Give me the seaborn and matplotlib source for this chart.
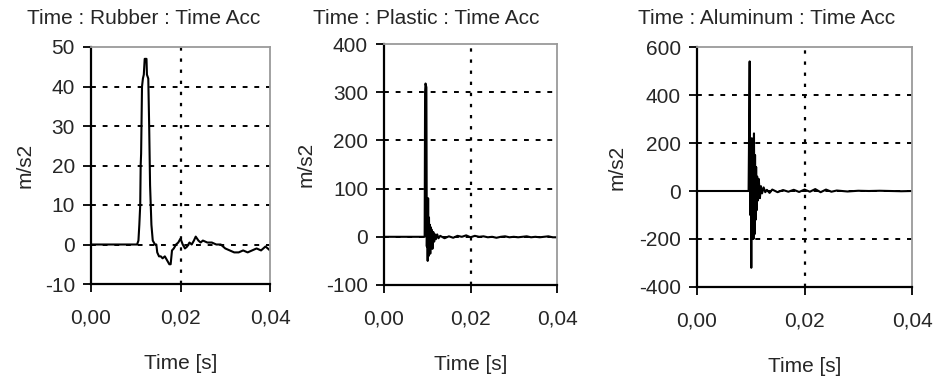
import numpy as np
import pandas as pd
import matplotlib
matplotlib.use("Agg")
import matplotlib.pyplot as plt
import seaborn as sns

# ---- data (time in ms, acceleration in m/s2) ----
rubber_t = [0, 10.3, 10.6, 10.8, 11.0, 11.1, 11.2, 11.4, 11.6, 11.8, 12.0, 12.4, 12.5, 12.8, 13.0,
            13.2, 13.5, 13.8, 14.3, 14.6, 14.8, 15.2, 15.6, 16.0, 16.5, 17.0, 17.5, 17.8, 18.1,
            18.5, 19.0, 19.5, 20.0, 20.5, 21.0, 21.5, 22.0, 22.5, 23.0, 23.4, 24.0, 24.5, 25.0,
            26.0, 27.0, 28.0, 29.0, 30.0, 31.0, 32.0, 33.0, 34.0, 35.0, 36.0, 37.0, 38.0, 39.0, 40.0]
rubber_a = [0, 0, 1, 5, 10, 20, 23, 40, 42, 43, 47, 47, 43, 42, 30,
            15, 5, 1, 0, 0, -2, -3, -3, -3.5, -3, -4, -5, -5, -1.5,
            -1, 0, 0.5, 1.5, 0, -1, -0.5, 0.5, 0, 1, 2, 1, 0.5, 1,
            0.5, 0.5, 0, 0, -1, -1.5, -2, -2, -1.5, -2, -1.5, -1, -1.5, -0.5, -1.5]

plastic_t = [0, 9.4, 9.5, 9.6, 9.8, 9.9, 10.0, 10.1, 10.2, 10.3, 10.4, 10.5, 10.6, 10.7, 10.8,
             10.9, 11.0, 11.2, 11.4, 11.6, 11.8, 12.0, 12.3, 12.6, 13.0, 14.0, 15.0, 16.0, 17.0,
             18.0, 19.0, 20.0, 21.0, 22.0, 23.0, 24.0, 25.0, 26.0, 27.0, 28.0, 29.0, 30.0,
             31.0, 32.0, 33.0, 34.0, 35.0, 36.0, 37.0, 38.0, 39.0, 40.0]
plastic_a = [0, 0, 300, 318, 310, -20, 60, -50, 80, -40, 40, -30, 25, -35, 20,
             -20, 15, -25, 10, -10, 5, -5, 5, -3, 2, -3, 1, -2, 2,
             0, 3, -1, 2, 0, 1, -1, 0, -2, 0, 1, -1, 0,
             -1, 0, 1, -1, 0, -1, 0, 1, -1, -1]

alu_t = [0, 9.6, 9.8, 9.9, 10.0, 10.1, 10.2, 10.3, 10.4, 10.5, 10.6, 10.7, 10.8, 10.9, 11.0,
         11.1, 11.2, 11.3, 11.5, 11.7, 11.9, 12.1, 12.4, 12.7, 13.0, 13.5, 14.0, 15.0, 16.0,
         17.0, 18.0, 19.0, 20.0, 21.0, 22.0, 23.0, 24.0, 25.0, 26.0, 28.0, 30.0, 32.0, 34.0,
         36.0, 38.0, 40.0]
alu_a = [0, 0, 540, -100, 200, -320, 220, -150, 180, -200, 240, -180, 150, -120, 100,
         -80, 60, -40, 50, -30, 20, -10, 15, -5, 5, -8, 6, -5, 4,
         -3, 5, -4, 6, -3, 8, -5, 6, -3, 2, -2, 1, 0, 1,
         0, -1, 0]

titles = ["Time : Rubber : Time Acc", "Time : Plastic : Time Acc", "Time : Aluminum : Time Acc"]
y_ticks = [[-10, 0, 10, 20, 30, 40, 50],
           [-100, 0, 100, 200, 300, 400],
           [-400, -200, 0, 200, 400, 600]]
x_ticks = [0.00, 0.02, 0.04]
x_ticklabels = ["0,00", "0,02", "0,04"]

sns.set_theme(style="white")
plt.rcParams['font.family'] = ['Liberation Sans', 'DejaVu Sans']
plt.rcParams['axes.unicode_minus'] = False

W, H = 938, 378
fig = plt.figure(figsize=(W / 100, H / 100), dpi=100)
# axes boxes in pixels: left, top, right, bottom
boxes = [(91, 47, 270, 284), (384, 44, 557, 285), (697, 47, 912, 287)]
title_px = [27, 313, 638]
ylabel_px = [25, 306, 617]
FS = 15

series = [(rubber_t, rubber_a), (plastic_t, plastic_a), (alu_t, alu_a)]
for i, (t, a) in enumerate(series):
    l, tp, r, b = boxes[i]
    ax = fig.add_axes([l / W, 1 - b / H, (r - l) / W, (b - tp) / H])
    df = pd.DataFrame({"t": np.array(t) / 1000.0, "a": a})
    sns.lineplot(data=df, x="t", y="a", ax=ax, color="black", linewidth=1.5, estimator=None)
    yt = y_ticks[i]
    ax.set_xlim(0, 0.04)
    ax.set_ylim(yt[0], yt[-1])
    ax.set_yticks(yt)
    ax.set_xticks(x_ticks)
    ax.set_xticklabels(x_ticklabels)
    for y in yt[1:-1]:
        ax.axhline(y, color="black", linestyle=(0, (2.5, 3.5)), linewidth=1.4, zorder=0)
    ax.axvline(0.02, color="black", linestyle=(0, (1.5, 3.5)), linewidth=1.6, zorder=0)
    ax.tick_params(axis="both", direction="out", length=5.5, width=1.3, color="black",
                   labelsize=FS, left=True, bottom=True)
    ax.tick_params(axis="y", pad=6)
    ax.tick_params(axis="x", pad=12)
    for s in ["left", "bottom"]:
        ax.spines[s].set_color("black")
        ax.spines[s].set_linewidth(1.6)
    for s in ["top", "right"]:
        ax.spines[s].set_color("#9a9a9a")
        ax.spines[s].set_linewidth(1.3)
    ax.set_xlabel("Time [s]", fontsize=FS, labelpad=19)
    ax.set_ylabel("m/s2", fontsize=FS)
    ax.yaxis.set_label_coords((ylabel_px[i] - l) / (r - l), 0.5)
    ax.yaxis.label.set_va("center")
    ax.grid(False)
    fig.text(title_px[i] / W, 1 - 18 / H, titles[i], fontsize=FS, ha="left", va="center")

fig.savefig("out.png", dpi=100)
